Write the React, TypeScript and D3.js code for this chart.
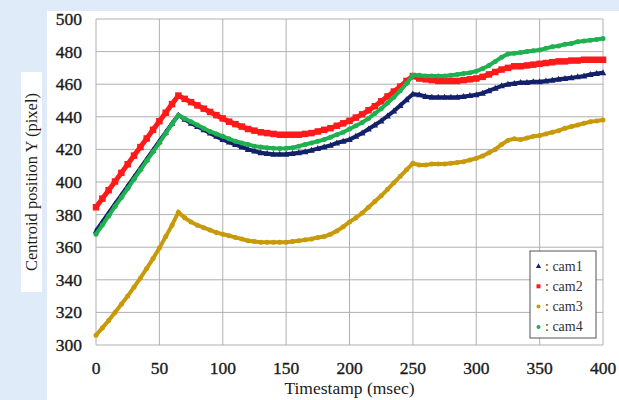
import React from "react";
import * as d3 from "d3";

// timestamps in msec, every 5 ms
const times: number[] = d3.range(0, 401, 5);

const cam1: number[] = [
  370, 375.5, 381, 386.5, 392, 397.5, 403, 408.5, 414, 419.5, 425, 430.5, 436, 441,
  438.5, 436, 434, 432, 430, 428, 426, 424.5, 423, 421.5, 420, 419, 418, 417.5, 417,
  417, 417, 417.5, 418, 418.5, 419.5, 420.5, 421.5, 422.5, 424, 425, 426, 428, 430,
  432.5, 435, 437.5, 440.5, 443.5, 447, 450.5, 454, 453.5, 452.5, 452, 452, 452, 452,
  452, 452.5, 453, 453.5, 454.5, 456, 457.5, 459, 460, 460.5, 461, 461, 461.5, 461.5,
  462, 462.5, 463, 463.5, 464, 464.5, 465, 466, 466.5, 467,
];

const cam2: number[] = [
  384.5, 389.8, 395, 400.3, 405.6, 410.9, 416.2, 421.4, 426.7, 432, 437.3, 442.5, 447.8,
  453, 451, 449, 447, 445, 443, 441, 439, 437, 435.5, 434, 432.5, 431.5, 430.5, 430,
  429.5, 429, 429, 429, 429, 429.5, 430, 431, 432, 433, 434.5, 436, 437.5, 439.5, 441.5,
  444, 446.5, 449.5, 452.5, 455.5, 458.5, 462, 465, 463.5, 463, 462.5, 462, 462, 462,
  462, 462.5, 463, 463.5, 464.5, 466, 467.5, 469, 470, 471, 471, 471.5, 472, 472.5, 473,
  473.5, 474, 474, 474.5, 474.5, 475, 475, 475, 475,
];

const cam3: number[] = [
  306, 310.5, 315, 320, 325, 330, 335.5, 341, 347, 353, 359.5, 366.5, 373.5, 381.5, 378,
  375.5, 373.5, 372, 370.5, 369, 368, 367, 366, 365, 364, 363.5, 363, 363, 363, 363,
  363, 363.5, 364, 364.5, 365, 366, 366.5, 368, 370, 372.5, 375.5, 378, 381, 384.5, 388,
  391.5, 395.5, 399.5, 403.5, 407.5, 411.5, 410.5, 410.5, 411, 411, 411, 411.5, 412,
  412.5, 413.5, 414.5, 416, 418, 420, 423, 425.5, 426.5, 426, 427, 428, 428.5, 429.5,
  430.5, 431.5, 433, 434, 435, 436, 437, 437.5, 438,
];

const cam4: number[] = [
  368, 373.6, 379.2, 385, 390.5, 396, 401.7, 407.3, 413, 418.5, 424, 429.8, 435.5, 441,
  439, 437, 435, 433, 431, 429.5, 428, 426.5, 425, 424, 423, 422, 421.5, 421, 420.7,
  420.5, 420.7, 421, 422, 423, 424, 425, 426, 427.5, 429, 430.5, 432.5, 434.5, 436.5,
  439, 442, 445, 448.5, 452, 456, 460.5, 465.5, 465.5, 465, 465, 465, 465, 465.5, 466,
  466.5, 467, 468, 469.5, 471.5, 474, 476.5, 478.5, 479, 479.5, 480, 480.5, 481, 482,
  483, 483.5, 484.5, 485, 486, 486.5, 487, 487.5, 488,
];

const seriesNames = ["cam1", "cam2", "cam3", "cam4"];
const seriesValues = [cam1, cam2, cam3, cam4];
const seriesColors = ["#13206a", "#ff1a1a", "#c89a0a", "#1fb050"];
const seriesShapes = ["triangle", "square", "circle", "circle"];
const seriesSizes = [5, 6.5, 5, 5];

const xTicks = [0, 50, 100, 150, 200, 250, 300, 350, 400];
const yTicks = [300, 320, 340, 360, 380, 400, 420, 440, 460, 480, 500];

const W = 619;
const H = 400;
const plot = { left: 96, right: 603, top: 19, bottom: 345 };
const font = "'Times New Roman', 'Liberation Serif', 'DejaVu Serif', serif";

const Marker = ({ shape, x, y, color, s }: any) => {
  if (shape === "triangle") {
    return (
      <path
        d={`M${x},${y - s * 0.7}L${x + s * 0.65},${y + s * 0.5}L${x - s * 0.65},${y + s * 0.5}Z`}
        fill={color}
      />
    );
  }
  if (shape === "square") {
    return <rect x={x - s / 2} y={y - s / 2} width={s} height={s} fill={color} />;
  }
  return <circle cx={x} cy={y} r={s / 2} fill={color} />;
};

export default function App() {
  const x = d3.scaleLinear().domain([0, 400]).range([plot.left, plot.right]);
  const y = d3.scaleLinear().domain([300, 500]).range([plot.bottom, plot.top]);

  const line = d3
    .line<number>()
    .x((d, i) => x(times[i]))
    .y((d) => y(d));

  return (
    <svg
      width={W}
      height={H}
      style={{ position: "absolute", left: 0, top: 0, fontFamily: font }}
    >
      <rect x={0} y={0} width={W} height={H} fill="#e0ebf9" />
      <rect x={47} y={11} width={W - 47} height={H - 11} fill="#ffffff" />
      <rect x={21} y={72} width={21} height={220} fill="#ffffff" />

      {/* grid */}
      <g stroke="#b0b0b0" strokeWidth={1}>
        {yTicks.map((t) => (
          <line key={"gy" + t} x1={plot.left} x2={plot.right} y1={y(t)} y2={y(t)} />
        ))}
        {xTicks.map((t) => (
          <line key={"gx" + t} x1={x(t)} x2={x(t)} y1={plot.top} y2={plot.bottom} />
        ))}
      </g>

      {/* series */}
      {seriesValues.map((vals, k) => (
        <g key={seriesNames[k]}>
          <path
            d={line(vals) || ""}
            fill="none"
            stroke={seriesColors[k]}
            strokeWidth={k === 1 ? 5 : 4}
          />
          {vals.map((v, i) => (
            <Marker
              key={i}
              shape={seriesShapes[k]}
              x={x(times[i])}
              y={y(v)}
              color={seriesColors[k]}
              s={seriesSizes[k]}
            />
          ))}
        </g>
      ))}

      {/* tick labels */}
      <g style={{ fontFamily: font, fontSize: "17.5px" }} fill="#1a1a1a" stroke="#1a1a1a" strokeWidth={0.35}>
        {yTicks.map((t) => (
          <text key={"ty" + t} x={82} y={y(t) + 6} textAnchor="end">
            {t}
          </text>
        ))}
        {xTicks.map((t) => (
          <text key={"tx" + t} x={x(t)} y={374} textAnchor="middle">
            {t}
          </text>
        ))}
      </g>
      <text
        x={(plot.left + plot.right) / 2}
        y={394}
        textAnchor="middle"
        style={{ fontFamily: font, fontSize: "17.5px" }}
        fill="#1a1a1a"
      >
        Timestamp (msec)
      </text>
      <text
        transform={`translate(37,182) rotate(-90)`}
        textAnchor="middle"
        style={{ fontFamily: font, fontSize: "16.5px" }}
        fill="#1a1a1a"
      >
        Centroid position Y (pixel)
      </text>

      {/* legend */}
      <g>
        <rect x={530} y={251} width={66} height={87} fill="#ffffff" stroke="#555" strokeWidth={1} />
        {seriesNames.map((n, k) => (
          <g key={"lg" + n} transform={`translate(0,${266 + k * 20.3})`}>
            <Marker shape={seriesShapes[k]} x={538.5} y={0} color={seriesColors[k]} s={4} />
            <text x={545} y={4.5} style={{ fontFamily: font, fontSize: "14px" }} fill="#333">
              {":  " + n}
            </text>
          </g>
        ))}
      </g>
    </svg>
  );
}
